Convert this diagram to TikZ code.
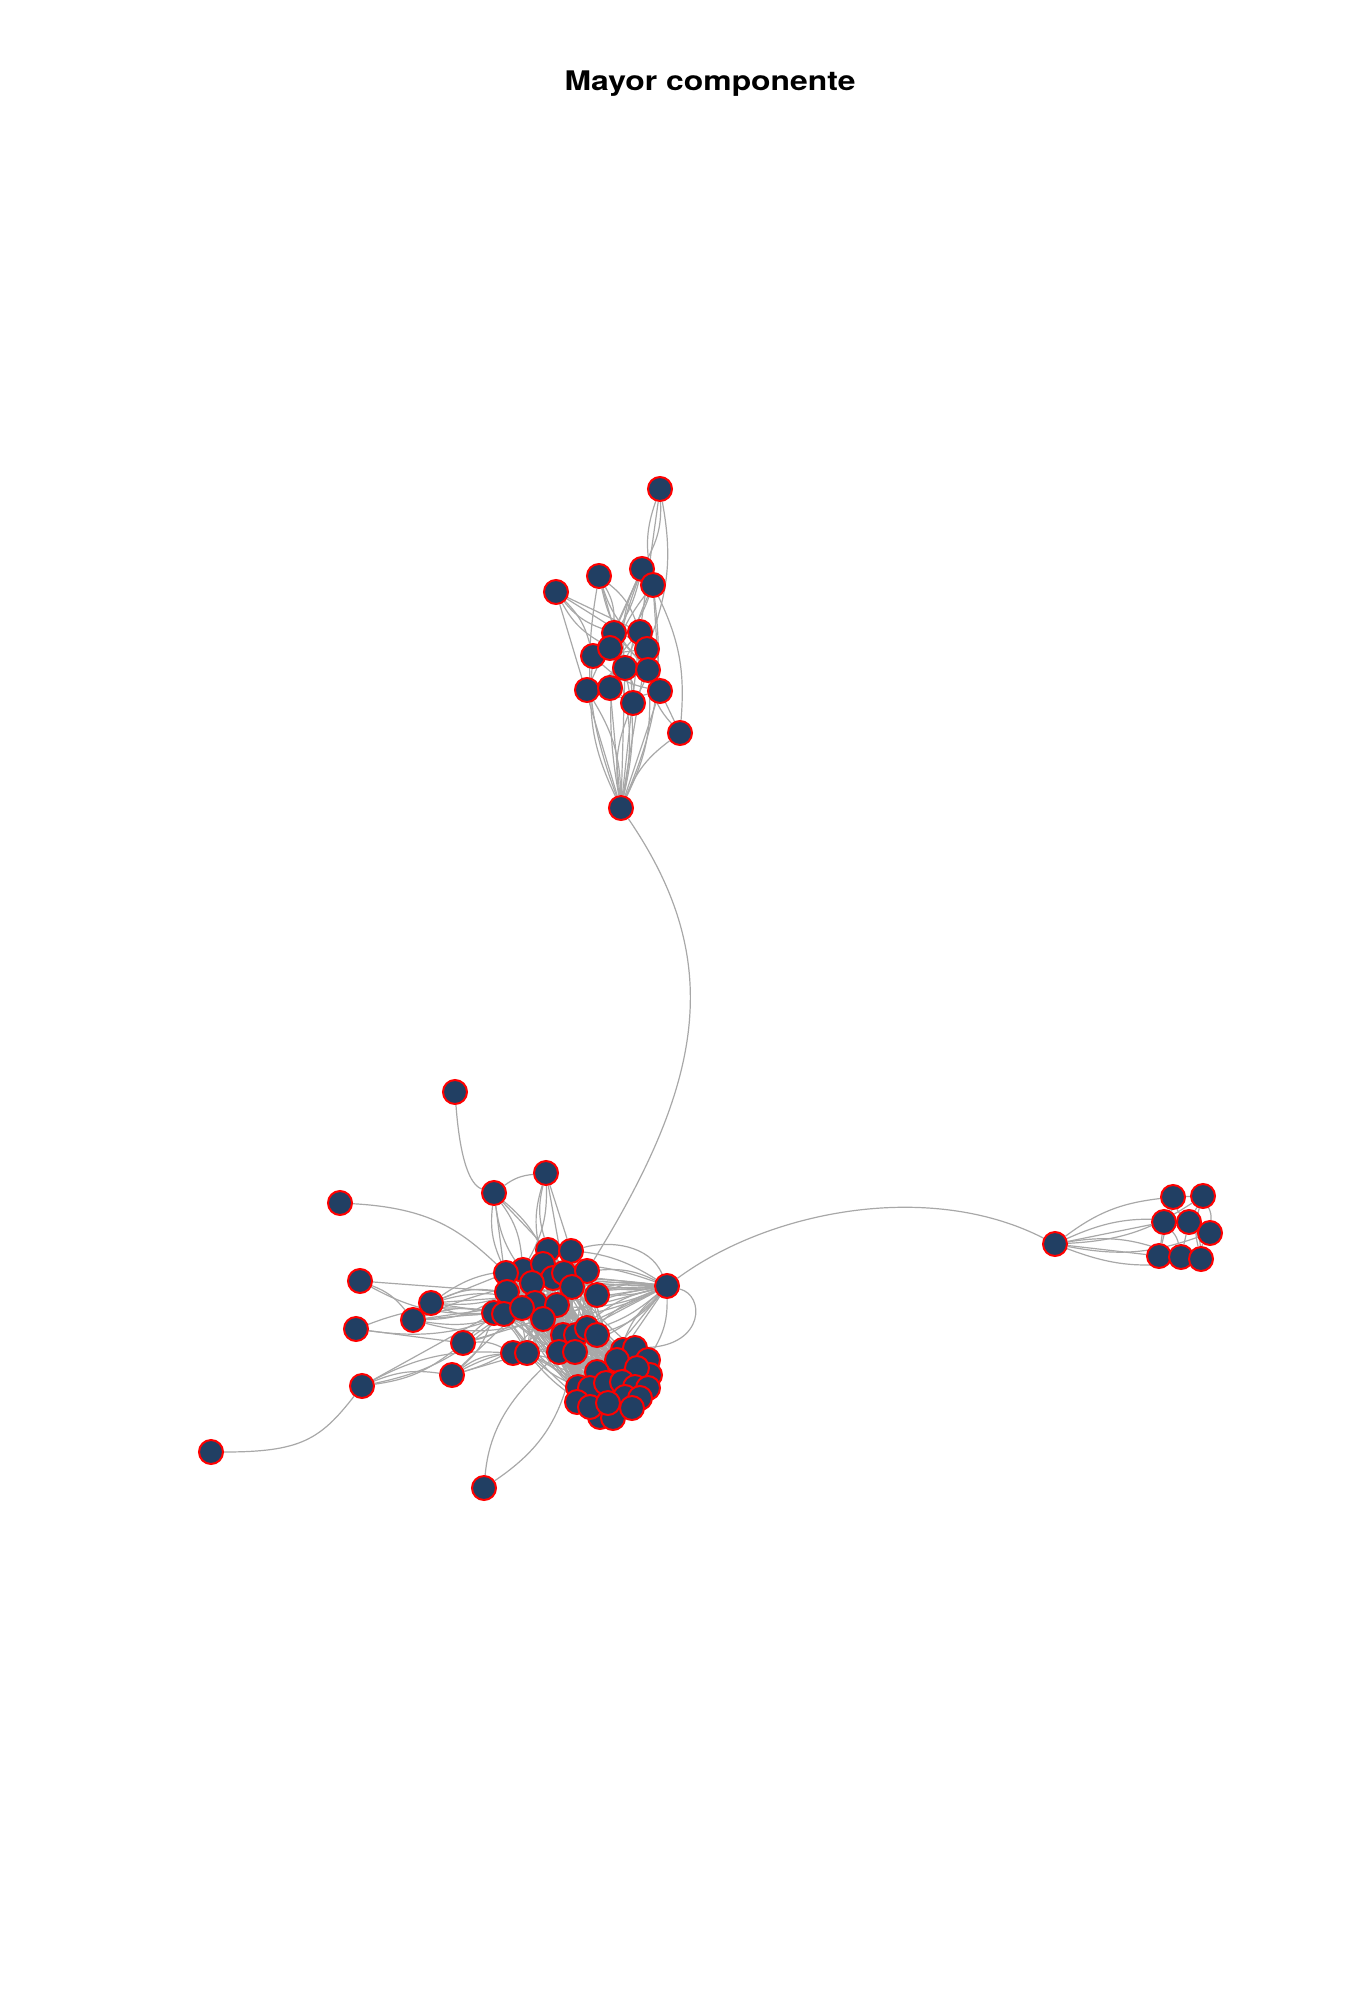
\documentclass[tikz,border=0pt]{standalone}
\usepackage{fontspec}
\setmainfont{TeX Gyre Heros}
\usetikzlibrary{backgrounds}
\definecolor{nodefill}{HTML}{213F63}
\definecolor{edgegray}{HTML}{A8A8A8}
\begin{document}
\begin{tikzpicture}[x=0.5pt,y=-0.5pt,
  vtx/.style={circle,fill=nodefill,draw=red,line width=1pt,minimum size=12pt,inner sep=0pt},
  edge/.style={draw=edgegray,line width=0.6pt}]
\useasboundingbox (0,0) rectangle (1344,2016);
\node[font=\bfseries\fontsize{13.5}{16}\selectfont] (title) at (710,84) {\scalebox{1.18}[1]{Mayor componente}};
% top cluster
\foreach \n/\x/\y in {t1/660/489,t2/642/569,t3/653/585,t4/599/576,t5/556/592,t6/614/633,t7/640/632,t8/647/649,t9/593/656,t10/610/648,t11/625/668,t12/648/670,t13/587/690,t14/610/688,t15/660/691,t16/633/703,t17/680/733,t0/621/808}
  \node[vtx] (\n) at (\x,\y) {};
% central left group and pendants
\foreach \n/\x/\y in {c1/546/1173,c2/494/1193,c3/455/1092,c4/340/1203,c5/360/1281,c6/356/1329,c7/431/1303,c8/413/1320,c9/463/1343,c10/452/1375,c11/362/1386,c12/211/1452,c13/484/1488,h/667/1286}
  \node[vtx] (\n) at (\x,\y) {};
% dense group
\foreach \n/\x/\y in {d1/548/1250,d2/571/1251,d3/523/1270,d4/543/1264,d5/506/1273,d6/553/1278,d7/564/1273,d8/587/1271,d9/532/1283,d10/572/1287,d11/597/1295,d12/507/1292,d13/535/1303,d14/557/1305,d15/494/1313,d16/504/1314,d17/522/1308,d18/543/1319,d19/563/1335,d20/576/1335,d21/587/1328,d22/597/1335,d23/513/1353,d24/527/1353,d25/559/1352,d26/575/1352}
  \node[vtx] (\n) at (\x,\y) {};
% round group
\foreach \n/\x/\y in {b1/623/1350,b2/635/1348,b3/648/1360,b4/617/1360,b5/597/1372,b6/650/1375,b7/637/1368,b8/578/1387,b9/590/1388,b10/606/1383,b11/622/1382,b12/635/1387,b13/648/1388,b14/577/1402,b15/625/1397,b16/640/1398,b17/600/1417,b18/613/1418,b19/632/1408,b20/590/1407,b21/608/1403}
  \node[vtx] (\n) at (\x,\y) {};
% right cluster
\foreach \n/\x/\y in {r0/1055/1244,r1/1173/1197,r2/1203/1196,r3/1164/1222,r4/1189/1222,r5/1210/1233,r6/1159/1256,r7/1181/1257,r8/1201/1259}
  \node[vtx] (\n) at (\x,\y) {};

\begin{scope}[on background layer]
\foreach \a/\b [count=\k] in {t0/t5,t0/t4,t0/t13,t0/t14,t0/t9,t0/t10,t0/t11,t0/t16,t0/t12,t0/t15,t0/t17,t0/t6,t0/t7,t0/t2,t0/t3,t0/t8,
  t1/t2,t1/t3,t1/t7,t1/t8,t5/t6,t5/t7,t5/t9,t5/t10,t5/t8,t4/t6,t4/t8,t4/t11,t4/t7,t4/t12,
  t2/t6,t2/t9,t2/t11,t2/t13,t3/t10,t3/t14,t3/t15,t3/t17,t3/t16,t17/t15,t17/t12,
  t6/t11,t6/t12,t7/t13,t7/t14,t8/t9,t8/t16,t9/t15,t10/t12,t11/t16,t13/t15,t14/t16,
  c2/c1,c1/d1,c1/d2,c1/d3,c1/d4,c1/d7,c2/d3,c2/d5,c2/d1,c2/d6,c2/d9,c2/d12,
  c5/c8,c5/d15,c5/d12,c6/d16,c6/d17,c6/c9,
  c11/c10,c11/c9,c11/d15,c11/d23,c11/d16,
  c7/d5,c7/d12,c7/d15,c7/d16,c7/d3,c7/d9,c7/h,c7/d13,
  c8/d12,c8/d15,c8/d16,c8/d17,c8/d13,c8/h,c8/d18,
  c9/d16,c9/d17,c9/d13,c9/d18,c9/d23,c10/d15,c10/d17,c10/d23,c10/d18,c10/d24,c10/d25,
  h/d1,h/d3,h/d4,h/d5,h/d6,h/d7,h/d8,h/d9,h/d10,h/d11,h/d12,h/d13,h/d14,h/d15,h/d16,h/d17,h/d18,h/d19,h/d20,h/d21,h/d22,h/d23,h/d24,h/d25,h/d26,h/b1,h/b3,h/b4,h/b5,
  r0/r1,r0/r2,r0/r3,r0/r4,r0/r5,r0/r6,r0/r7,r0/r8,
  r1/r2,r1/r3,r1/r4,r2/r4,r2/r5,r3/r4,r3/r6,r3/r7,r4/r5,r4/r7,r4/r8,r5/r8,r6/r7,r7/r8,r2/r8,r1/r6}{
  \pgfmathsetmacro\bb{(mod(\k,3)-1)*15}
  \draw[edge] (\a) to[bend left=\bb] (\b);
}
\foreach \i in {1,...,26}{\foreach \j in {1,...,26}{\ifnum\i<\j\relax
  \pgfmathtruncatemacro\m{mod(\i*\j+\i+\j,3)}\ifnum\m=0\relax \draw[edge] (d\i) to[bend left=10] (d\j);\fi\fi}}
\foreach \i in {1,...,26}{\foreach \j in {1,...,21}{
  \pgfmathtruncatemacro\m{mod(\i*\j+2*\i+\j,4)}\ifnum\m=0\relax \draw[edge] (d\i) to[bend right=8] (b\j);\fi}}
\foreach \i in {1,...,21}{\foreach \j in {1,...,21}{\ifnum\i<\j\relax
  \pgfmathtruncatemacro\m{mod(\i*\j+\i+\j,3)}\ifnum\m=0\relax \draw[edge] (b\i) to[bend left=10] (b\j);\fi\fi}}
% pendant and long edges
\draw[edge] (c3) .. controls (460,1160) and (470,1185) .. (c2);
\draw[edge] (c4) .. controls (430,1208) and (460,1230) .. (d5);
\draw[edge] (c12) .. controls (300,1452) and (320,1440) .. (c11);
\draw[edge] (c13) .. controls (490,1420) and (520,1390) .. (d25);
\draw[edge] (c13) .. controls (540,1450) and (560,1420) .. (d26);
\draw[edge] (t0) .. controls (725,960) and (705,1080) .. (d8);
\draw[edge] (h) .. controls (770,1210) and (930,1180) .. (r0);
\draw[edge] (h) .. controls (705,1295) and (705,1345) .. (b2);
\draw[edge] (d2) .. controls (610,1240) and (650,1245) .. (h);
\end{scope}
\end{tikzpicture}
\end{document}
